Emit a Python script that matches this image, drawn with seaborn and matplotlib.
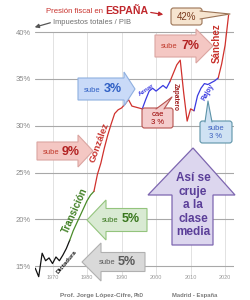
import numpy as np
import pandas as pd
import matplotlib
matplotlib.use("Agg")
import matplotlib.pyplot as plt
from matplotlib.patches import Polygon, FancyBboxPatch
import seaborn as sns

# tax burden (% of GDP) by government period
dict_years = list(range(1965, 1976))
dict_vals = [14.8, 13.9, 16.4, 15.6, 15.9, 15.3, 16.0, 15.6, 16.2, 16.9, 17.8]
trans_years = list(range(1975, 1983))
trans_vals = [17.8, 18.8, 19.6, 20.4, 21.2, 22.0, 22.6, 23.0]
gonz_years = list(range(1982, 1997))
gonz_vals = [23.0, 24.8, 26.0, 27.6, 29.0, 30.2, 31.3, 31.7, 31.9, 32.3, 32.8, 32.1, 32.0, 31.9, 31.8]
aznar_years = list(range(1996, 2005))
aznar_vals = [31.8, 32.8, 33.7, 34.0, 33.7, 34.0, 34.3, 34.0, 34.7]
zap_years = list(range(2004, 2012))
zap_vals = [34.7, 35.6, 36.5, 37.0, 33.5, 30.5, 31.8, 31.6]
rajoy_years = list(range(2011, 2019))
rajoy_vals = [31.6, 33.2, 34.0, 34.5, 34.4, 34.6, 34.8, 35.1]
sanchez_years = list(range(2018, 2022))
sanchez_vals = [35.1, 36.6, 38.6, 41.8]

y_ticks = [15, 20, 25, 30, 35, 40]
x_ticks = [1970, 1980, 1990, 2000, 2010, 2020]

RED = "#d0312d"
BLUE = "#3a3ae0"
GREEN = "#4a8c2a"
BLACK = "#111111"

segments = [
    ("Dictadura", dict_years, dict_vals),
    ("Transicion", trans_years, trans_vals),
    ("Gonzalez", gonz_years, gonz_vals),
    ("Aznar", aznar_years, aznar_vals),
    ("Zapatero", zap_years, zap_vals),
    ("Rajoy", rajoy_years, rajoy_vals),
    ("Sanchez", sanchez_years, sanchez_vals),
]
df = pd.concat(
    [pd.DataFrame({"year": y, "value": v, "era": name}) for name, y, v in segments],
    ignore_index=True,
)
palette = {"Dictadura": BLACK, "Transicion": GREEN, "Gonzalez": RED, "Aznar": BLUE,
           "Zapatero": RED, "Rajoy": BLUE, "Sanchez": RED}

sns.set_theme(style="white")
plt.rcParams["font.family"] = ["Liberation Sans", "DejaVu Sans"]

fig = plt.figure(figsize=(2.5, 3.0), dpi=100)
ax = fig.add_axes([0.141, 0.0653, 0.794, 0.906])

sns.lineplot(data=df, x="year", y="value", hue="era", palette=palette,
             estimator=None, sort=False, legend=False, lw=0.9, ax=ax, zorder=3)

ax.set_xlim(1965, 2022.5)
ax.set_ylim(13.5, 42.5)
ax.set_yticks(y_ticks)
ax.set_yticklabels([f"{t}%" for t in y_ticks])
ax.set_xticks(x_ticks)
ax.set_xticklabels([str(t) for t in x_ticks])
ax.tick_params(axis="y", length=0, pad=3, labelsize=5.5, labelcolor="#8a8a8a")
ax.tick_params(axis="x", length=0, pad=-4, labelsize=4, labelcolor="#9a9a9a")
ax.set_xlabel("")
ax.set_ylabel("")
for t in y_ticks:
    ax.axhline(t, color="#a8a8a8", lw=0.8, zorder=1)
ax.vlines(x_ticks, 14.0, 40, color="#e2e2e2", lw=0.7, zorder=0)
sns.despine(ax=ax, left=True, bottom=True)

# overlay in pixel coordinates for the annotations
ov = fig.add_axes([0, 0, 1, 1])
ov.set_xlim(0, 250)
ov.set_ylim(300, 0)
ov.axis("off")
ov.patch.set_alpha(0)


def block_arrow(x0, x1, yc, bh, hh, hl, fc, ec):
    s = 1 if x1 > x0 else -1
    xb = x1 - s * hl
    pts = [(x0, yc - bh / 2), (xb, yc - bh / 2), (xb, yc - hh / 2), (x1, yc),
           (xb, yc + hh / 2), (xb, yc + bh / 2), (x0, yc + bh / 2)]
    ov.add_patch(Polygon(pts, closed=True, fc=fc, ec=ec, lw=0.8, zorder=4))


def sube(xs, xn, y, num, c1, c2):
    ov.text(xs, y + 1, "sube", ha="center", va="center", fontsize=5.5, color=c1, zorder=6)
    ov.text(xn, y, num, ha="center", va="center", fontsize=9, fontweight="bold", color=c2, zorder=6)


def callout(x0, y0, x1, y1, tail, fc, ec):
    ov.add_patch(FancyBboxPatch((x0, y0), x1 - x0, y1 - y0, boxstyle="round,pad=0,rounding_size=2.5",
                                fc=fc, ec=ec, lw=0.8, zorder=4))
    ov.add_patch(Polygon(tail, closed=True, fc=fc, ec="none", zorder=5))
    ov.plot([tail[0][0], tail[1][0], tail[2][0]], [tail[0][1], tail[1][1], tail[2][1]],
            color=ec, lw=0.8, zorder=5)


# title
ov.text(103, 11.5, "Presión fiscal en", ha="right", va="center", fontsize=5.6, color="#c8322d")
ov.text(105, 11, "ESPAÑA", ha="left", va="center", fontsize=7.6, fontweight="bold", color="#c0282d")
ov.annotate("", xy=(166, 15), xytext=(148, 12),
            arrowprops=dict(arrowstyle="-|>", color="#c0282d", lw=0.9, mutation_scale=6))
ov.text(53, 22, "Impuestos totales / PIB", ha="left", va="center", fontsize=5.4, color="#6e6e6e")
ov.annotate("", xy=(32, 28), xytext=(53, 22),
            arrowprops=dict(arrowstyle="-|>", color="#555555", lw=0.9, mutation_scale=6))

# 42% callout
callout(171, 8, 202, 25, [(200, 11), (230, 14), (200, 19)], "#f6e4cf", "#9c7456")
ov.text(186.5, 16.5, "42%", ha="center", va="center", fontsize=7, color="#7a3b1e", zorder=6)

# block arrows
block_arrow(155, 213, 46, 22, 34, 17, "#f4c7c3", "#dba5a1")
sube(169, 190, 46, "7%", "#c0392b", "#b22222")
block_arrow(78, 135, 89, 22, 34, 11, "#c9daf8", "#8fb0e0")
sube(92, 113, 89, "3%", "#2f5fc4", "#2f5fc4")
block_arrow(37, 93, 151, 18, 32, 15, "#f4c7c3", "#dba5a1")
sube(51, 71, 152, "9%", "#c0392b", "#b22222")
block_arrow(147, 87, 220, 23, 40, 19, "#d9ead3", "#93c47d")
sube(110, 131, 219, "5%", "#38761d", "#38761d")
block_arrow(145, 82, 262, 19, 38, 19, "#d9d9d9", "#b0b0b0")
sube(107, 127, 262, "5%", "#595959", "#595959")

# purple up arrow
up = [(172, 245), (172, 195), (148, 195), (193, 148), (235, 195), (213, 195), (213, 245)]
ov.add_patch(Polygon(up, closed=True, fc="#dcd6ee", ec="#7d66b0", lw=0.9, zorder=4))
for txt, yy in zip(["Así se", "cruje", "a la", "clase", "media"], [178, 192, 205, 219, 232]):
    ov.text(193, yy, txt, ha="center", va="center", fontsize=8.5, fontweight="bold",
            color="#5b3f99", zorder=6)

# boxes
callout(142, 108, 173, 128, [(156, 109), (172, 97), (164, 109)], "#f4cccc", "#b85450")
ov.text(157.5, 114, "cae", ha="center", va="center", fontsize=5.5, color="#990000", zorder=6)
ov.text(157.5, 122.5, "3 %", ha="center", va="center", fontsize=5.5, color="#990000", zorder=6)
callout(200, 121, 232, 143, [(205, 122), (208, 101), (212, 122)], "#cfe2f3", "#5d93a8")
ov.text(216, 128, "sube", ha="center", va="center", fontsize=5.5, color="#3c5fbf", zorder=6)
ov.text(216, 137, "3 %", ha="center", va="center", fontsize=5.5, color="#3c5fbf", zorder=6)

# government labels
ov.text(217, 43, "Sánchez", rotation=90, ha="center", va="center", fontsize=7,
        fontweight="bold", color="#c8322d", zorder=6)
ov.text(99, 143, "González", rotation=70, ha="center", va="center", fontsize=6.8,
        fontweight="bold", color="#c8322d", zorder=6)
ov.text(75, 211, "Transición", rotation=66, ha="center", va="center", fontsize=7,
        fontweight="bold", color="#3f7f22", zorder=6)
ov.text(67, 262, "Dictadura", rotation=50, ha="center", va="center", fontsize=4.5,
        fontweight="bold", color="#111111", zorder=6)
ov.text(146, 90, "Aznar", rotation=34, ha="center", va="center", fontsize=4.6,
        fontweight="bold", color=BLUE, zorder=6)
ov.text(175, 97, "Zapatero", rotation=-90, ha="center", va="center", fontsize=4.7,
        fontweight="bold", color="#a02020", zorder=6)
ov.text(208, 92, "Rajoy", rotation=60, ha="center", va="center", fontsize=4.8,
        fontweight="bold", color=BLUE, zorder=6)

# footer
ov.text(132, 295, "Prof. Jorge López-Cifre,", ha="right", va="center", fontsize=4.6,
        fontweight="bold", color="#7a7a7a")
ov.text(134, 295.5, "PhD", ha="left", va="center", fontsize=3.6, fontweight="bold", color="#7a7a7a")
ov.text(195, 295, "Madrid - España", ha="center", va="center", fontsize=4.2,
        fontweight="bold", color="#7a7a7a")

fig.savefig("out.png", dpi=100)
